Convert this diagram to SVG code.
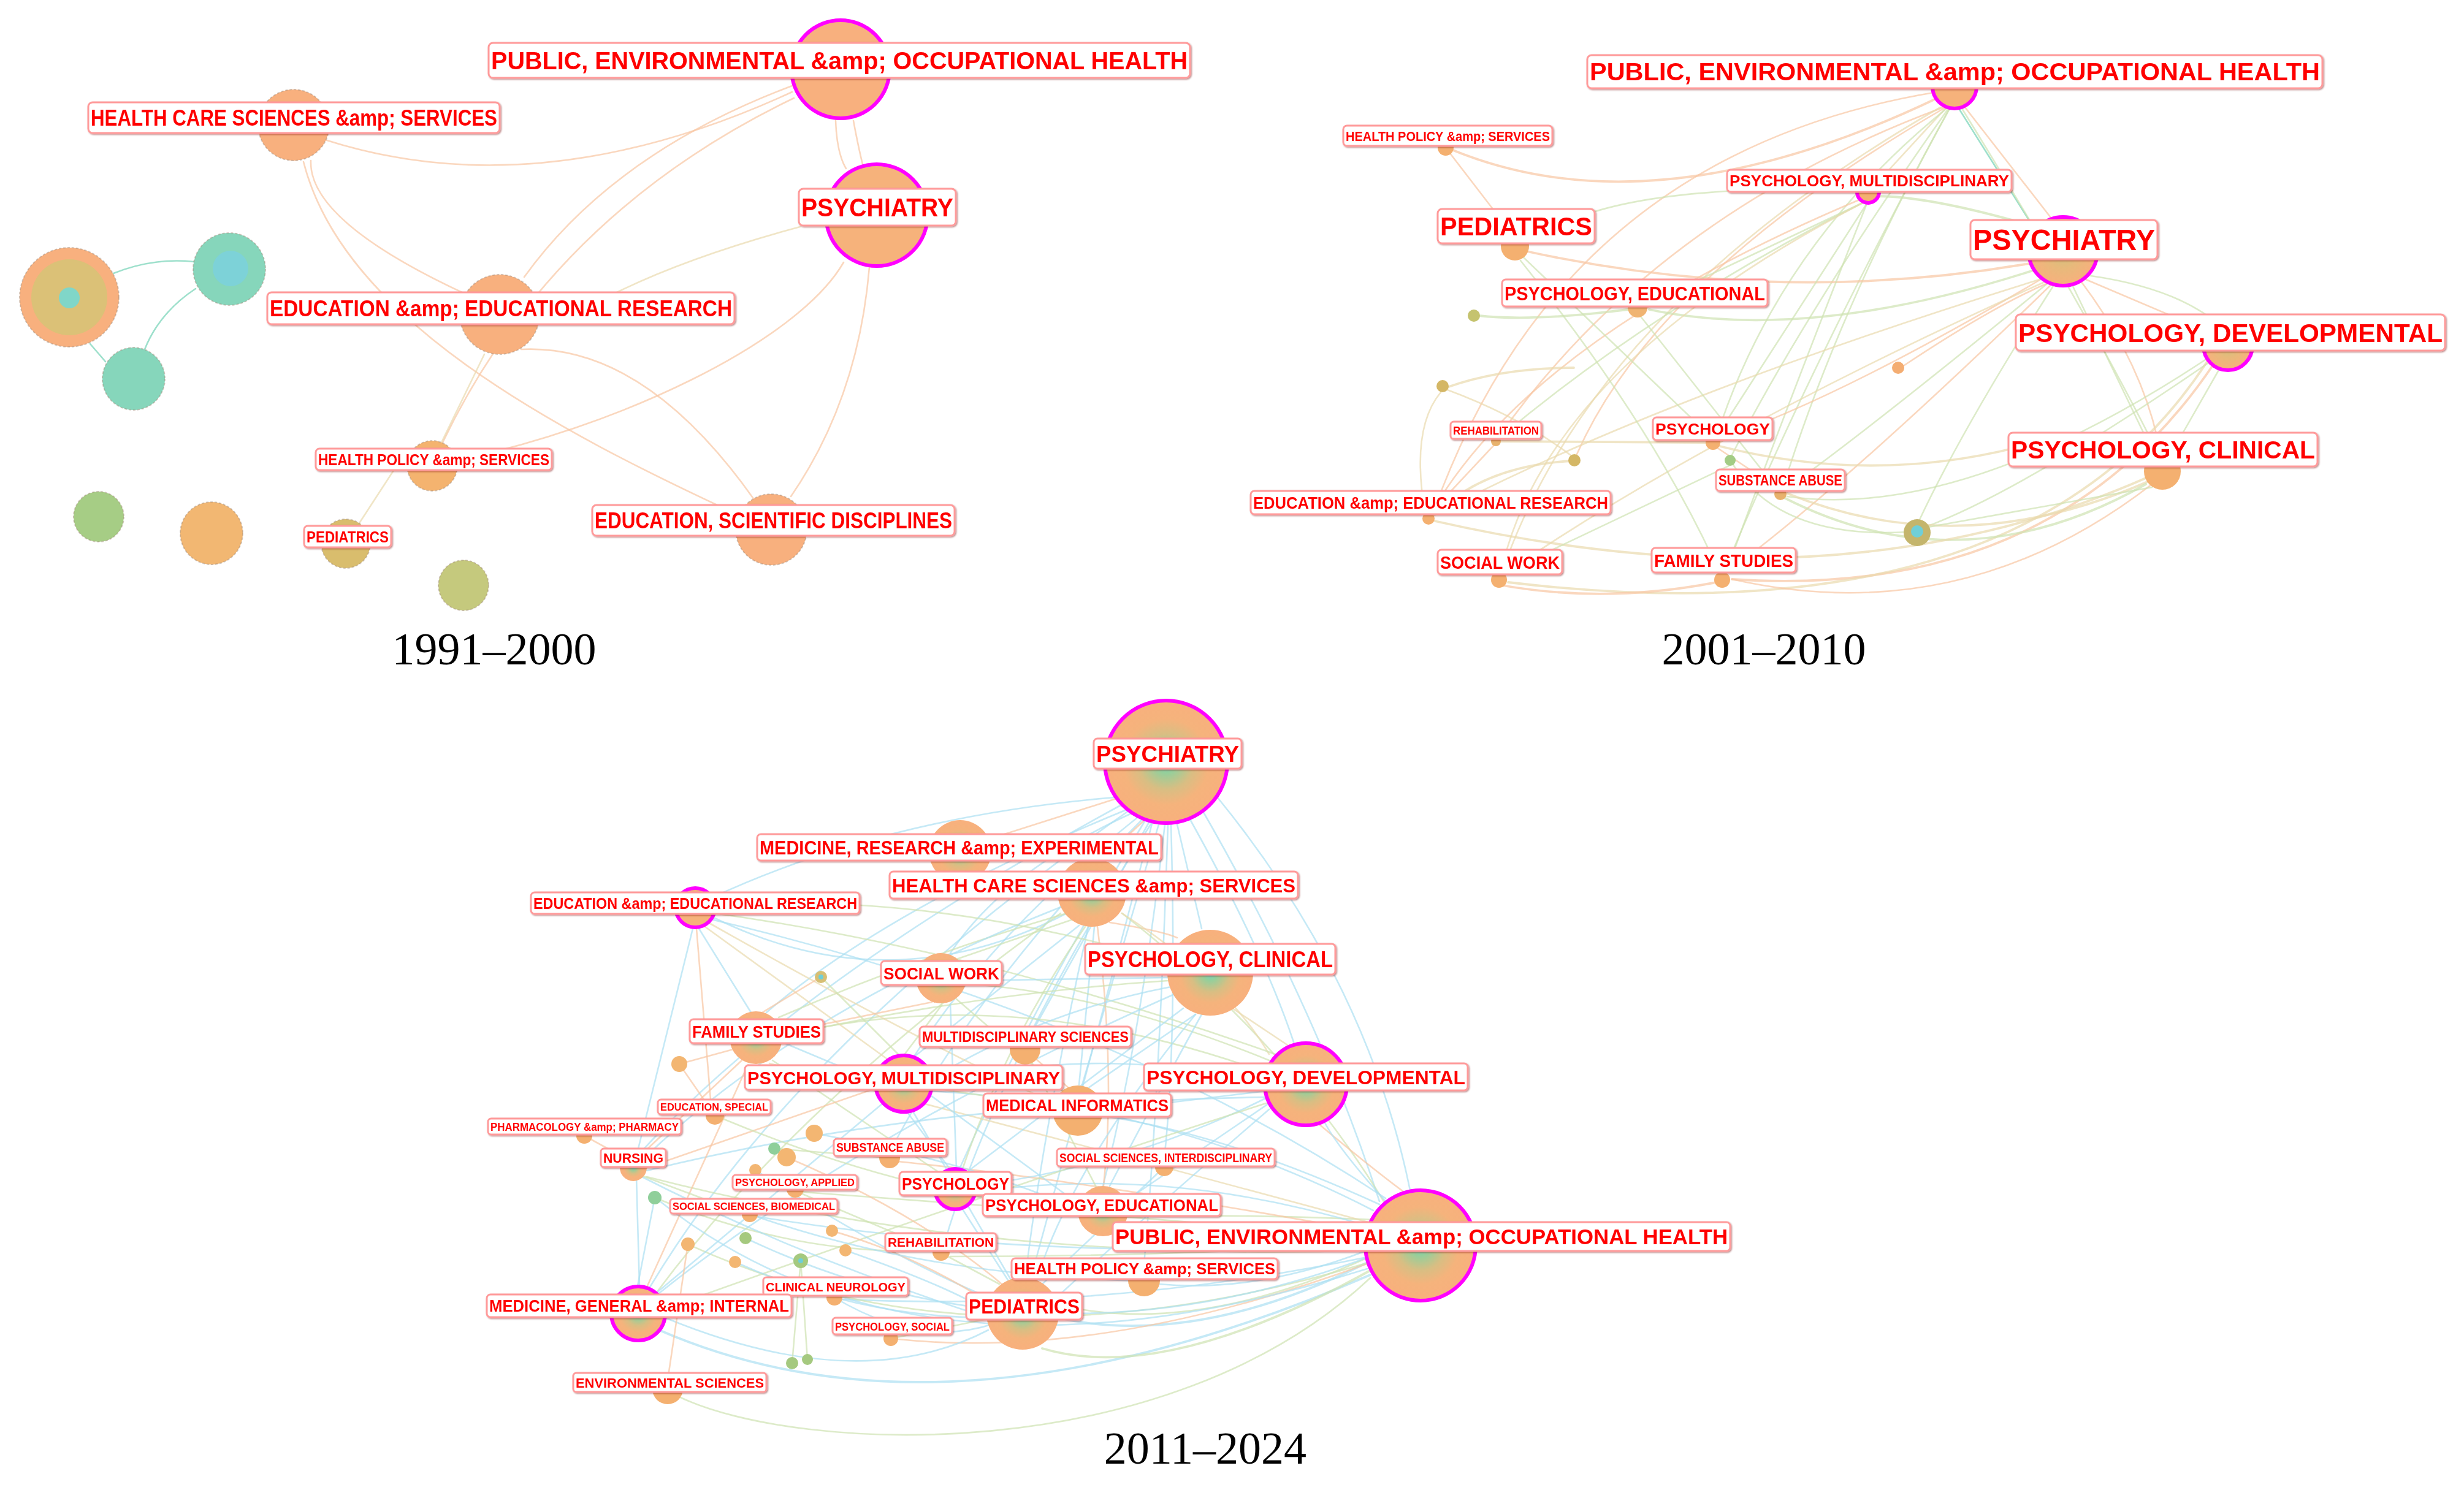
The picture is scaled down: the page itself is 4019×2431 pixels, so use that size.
<svg xmlns="http://www.w3.org/2000/svg" width="4019" height="2431" viewBox="0 0 4019 2431">
<style>
.e{fill:none;stroke-width:2.6;stroke-linecap:round;stroke-opacity:.7}
.eo{stroke:#f8c6a2}.eg{stroke:#cfe2b2}.eb{stroke:#ade0f2}.et{stroke:#eadaae}.ec{stroke:#9ee0cc;stroke-opacity:1}
.w{stroke-width:3.8}
.n{stroke:#a08a78;stroke-opacity:.45;stroke-width:2;stroke-dasharray:4 3}
.m{stroke:#ff00ff;stroke-width:6}
.lb{fill:#fff;stroke:#ff9a9a;stroke-width:3}
.lt{font-family:"Liberation Sans Narrow","Liberation Sans",Arial,sans-serif;font-weight:bold;fill:#ff0000;text-anchor:middle}
.cap{font-family:"Liberation Serif","Times New Roman",serif;font-size:74px;fill:#000;text-anchor:middle}
</style>
<defs>
<radialGradient id="g3">
<stop offset="0" stop-color="#6ed3c6"/><stop offset="0.18" stop-color="#95cf9b"/><stop offset="0.45" stop-color="#d8be83"/><stop offset="0.7" stop-color="#f5b37c"/><stop offset="1" stop-color="#f8b07d"/>
</radialGradient>
<radialGradient id="g2">
<stop offset="0" stop-color="#cdc27e"/><stop offset="0.5" stop-color="#e8b97b"/><stop offset="1" stop-color="#f8b07d"/>
</radialGradient>
<filter id="sh" x="-5%" y="-20%" width="110%" height="140%"><feDropShadow dx="1.5" dy="1.5" stdDeviation="1" flood-color="#700" flood-opacity="0.45"/></filter>
</defs>
<rect width="4019" height="2431" fill="#fff"/>

<g id="connectors">
<!-- panel 1 -->
<path class="e eo" d="M530 228 Q880 340 1292 150"/>
<path class="e eo" d="M507 262 Q503 361 760 480"/>
<path class="e eo" d="M495 264 C560 520 900 700 1215 845"/>
<path class="e eo" d="M855 452 Q1000 250 1292 140"/>
<path class="e eo" d="M722 722 Q900 350 1295 160"/>
<path class="e eo" d="M1363 197 Q1365 250 1380 275"/>
<path class="e eo" d="M1392 197 Q1400 240 1407 268"/>
<path class="e et" d="M1305 370 Q1120 420 1000 480"/>
<path class="e eo" d="M1376 428 C1300 560 1000 700 740 752"/>
<path class="e eo" d="M1418 436 Q1400 650 1290 810"/>
<path class="e eo" d="M850 570 Q1050 560 1230 815"/>
<path class="e et" d="M790 578 L720 722"/>
<path class="e et" d="M643 766 L587 852"/>
<path class="e ec" d="M185 446 Q250 420 316 427"/>
<path class="e ec" d="M319 471 Q260 510 236 570"/>
<path class="e ec" d="M147 561 L172 590"/>
<!-- panel 2 -->
<path class="e eo w" d="M2370 245 Q2700 380 3160 160"/>
<path class="e eo" d="M2365 250 L2465 380"/>
<path class="e eo" d="M3160 150 Q2550 250 2340 830"/>
<path class="e et" d="M3175 175 L3060 300"/>
<path class="e ec" d="M3195 177 L3310 360"/>
<path class="e eo" d="M3205 175 L3345 355"/>
<path class="e eo" d="M3170 175 Q2700 350 2445 712"/>
<path class="e eg" d="M3175 177 Q2900 400 2800 712"/>
<path class="e eg" d="M3180 177 Q3000 500 2908 796"/>
<path class="e et" d="M3165 175 Q2600 500 2450 933"/>
<path class="e eg" d="M3180 177 Q2950 600 2812 933"/>
<path class="e eo" d="M3172 176 Q2700 450 2572 741"/>
<path class="e eg" d="M3178 177 Q2950 500 2825 742"/>
<path class="e eg" d="M3200 177 Q3400 500 3520 740"/>
<path class="e eo w" d="M2490 410 Q2900 500 3310 430"/>
<path class="e eg w" d="M3060 320 Q3150 320 3320 370"/>
<path class="e eg" d="M3035 310 Q2700 300 2560 360"/>
<path class="e eg" d="M3040 330 L2690 495"/>
<path class="e eg" d="M3040 330 Q2700 500 2445 715"/>
<path class="e eo" d="M3035 325 Q2500 550 2335 836"/>
<path class="e eg" d="M3045 332 L2800 712"/>
<path class="e eg" d="M3045 332 Q2900 700 2815 935"/>
<path class="e eg w" d="M3320 440 Q2950 560 2690 505"/>
<path class="e eo" d="M3400 455 L3600 540"/>
<path class="e eg" d="M3410 450 Q3550 470 3620 530"/>
<path class="e eg" d="M3380 465 L3515 745"/>
<path class="e eo" d="M3395 460 Q3500 600 3525 745"/>
<path class="e eo" d="M3330 455 Q3000 650 2805 716"/>
<path class="e eg" d="M3350 465 Q3200 700 3130 850"/>
<path class="e eo" d="M3345 465 Q3000 800 2815 935"/>
<path class="e eg" d="M3340 462 Q3050 700 2910 800"/>
<path class="e et" d="M3335 460 Q2800 700 2455 935"/>
<path class="e et" d="M3330 455 Q2700 650 2340 840"/>
<path class="e eg" d="M3620 602 L3540 742"/>
<path class="e eo w" d="M3610 595 Q3350 980 2825 945"/>
<path class="e et w" d="M3600 590 Q3300 1050 2460 950"/>
<path class="e eg" d="M3605 590 Q3300 800 3140 860"/>
<path class="e eg" d="M3600 585 Q3200 850 2915 810"/>
<path class="e et w" d="M2805 728 Q3050 790 3290 730"/>
<path class="e et w" d="M3505 785 Q3200 920 2915 805"/>
<path class="e eg w" d="M3500 790 Q3200 960 2910 812"/>
<path class="e et w" d="M3500 780 Q3000 1000 2340 850"/>
<path class="e eo" d="M3510 790 Q3200 1030 2825 945"/>
<path class="e eg" d="M3510 795 L3145 860"/>
<path class="e eo w" d="M2450 955 Q2620 985 2800 950"/>
<path class="e et w" d="M2448 720 L2785 722"/>
<path class="e et w" d="M2360 632 Q2450 600 2567 600"/>
<path class="e et" d="M2358 635 Q2480 680 2565 745"/>
<path class="e et" d="M2325 840 Q2300 700 2350 640"/>
<path class="e et w" d="M2340 840 Q2420 760 2563 752"/>
<path class="e eo" d="M2335 835 L2438 725"/>
<path class="e eg" d="M2452 935 L2820 760"/>
<path class="e et" d="M2448 935 Q2520 600 3040 330"/>
<path class="e eg w" d="M2655 505 Q2500 525 2412 515"/>
<path class="e eg" d="M2675 515 L2900 800"/>
<path class="e eg" d="M2480 425 Q2700 700 2805 935"/>
<path class="e eg" d="M2485 420 L2790 712"/>
<path class="e eo" d="M3100 600 Q3250 500 3340 462"/>
<path class="e eo" d="M2800 730 L2905 800"/>
<path class="e eg" d="M2825 755 Q2900 880 3110 868"/>
<!-- panel 3 -->
<path class="e eb" d="M1985 1300 Q2230 1600 2300 1942"/>
<path class="e eb" d="M1960 1320 Q2150 1650 2250 1960"/>
<path class="e eb" d="M1940 1335 Q2060 1550 2110 1700"/>
<path class="e eb" d="M1920 1345 L1960 1515"/>
<path class="e eb" d="M1900 1345 Q1860 1700 1799 1935"/>
<path class="e eb" d="M1890 1345 L1765 1770"/>
<path class="e eb" d="M1910 1345 Q1920 1700 1899 1890"/>
<path class="e eb" d="M1905 1345 Q1890 1800 1866 2062"/>
<path class="e eb" d="M1880 1340 Q1760 1800 1680 2090"/>
<path class="e eb" d="M1870 1335 Q1680 1650 1565 1907"/>
<path class="e eb" d="M1860 1330 Q1620 1520 1490 1725"/>
<path class="e eb" d="M1850 1325 Q1640 1420 1550 1555"/>
<path class="e eb" d="M1875 1340 L1680 1690"/>
<path class="e eb" d="M1830 1300 Q1450 1330 1160 1465"/>
<path class="e eb" d="M1840 1320 Q1450 1480 1250 1652"/>
<path class="e eb" d="M1845 1320 Q1300 1700 1060 2100"/>
<path class="e eb" d="M1835 1310 Q1300 1600 1045 1880"/>
<path class="e eb" d="M1865 1335 Q1600 1600 1455 1872"/>
<path class="e eb" d="M1880 1340 Q1620 1750 1540 2030"/>
<path class="e eo" d="M1830 1300 L1610 1370"/>
<path class="e eo" d="M1870 1335 L1800 1400"/>
<path class="e eb" d="M1160 1495 Q1450 1640 1740 1490"/>
<path class="e eg" d="M1740 1490 Q1500 1560 1270 1660"/>
<path class="e eb" d="M1760 1510 L1490 1725"/>
<path class="e eg" d="M1750 1500 L1560 1565"/>
<path class="e eo" d="M1810 1505 Q1900 1520 1920 1530"/>
<path class="e eo" d="M1790 1512 Q1820 1750 1800 1935"/>
<path class="e eb" d="M1775 1512 Q1700 1850 1672 2088"/>
<path class="e eg" d="M1830 1490 Q2100 1700 2260 1965"/>
<path class="e et" d="M1830 1490 Q2000 1600 2070 1720"/>
<path class="e eb" d="M1785 1512 L1760 1770"/>
<path class="e eg" d="M1770 1512 Q1640 1700 1570 1907"/>
<path class="e eb" d="M1730 1480 Q1300 1650 1050 1890"/>
<path class="e eg" d="M1730 1490 Q1300 1800 1070 2110"/>
<path class="e eb w" d="M1075 2170 Q1550 2377 2235 2080"/>
<path class="e eg" d="M1110 2280 C1300 2370 1900 2400 2235 2085"/>
<path class="e eb w" d="M2230 2060 Q1950 2200 1725 2150"/>
<path class="e eg" d="M2235 2050 Q1950 2180 1730 2130"/>
<path class="e eg w" d="M2240 2070 Q1900 2260 1700 2200"/>
<path class="e eb" d="M2230 2040 Q2050 2110 1890 2095"/>
<path class="e eg" d="M2240 1990 Q2000 1980 1840 1985"/>
<path class="e eb" d="M2230 2000 Q1900 1900 1590 1945"/>
<path class="e eg" d="M2230 2030 Q1900 2050 1550 2050"/>
<path class="e eb" d="M2235 2050 Q1800 2140 1375 2120"/>
<path class="e eo" d="M2235 2060 Q1800 2220 1465 2185"/>
<path class="e eb" d="M2240 1975 Q1900 1800 1515 1780"/>
<path class="e eb" d="M2250 1965 Q2000 1850 1795 1820"/>
<path class="e eo" d="M2150 1833 Q2230 1900 2290 1945"/>
<path class="e eb" d="M2260 1960 Q2180 1870 2160 1830"/>
<path class="e eg" d="M2230 2040 Q1600 2060 1055 1920"/>
<path class="e et" d="M2235 1995 Q1700 1850 1255 1735"/>
<path class="e eb" d="M2235 2030 Q1700 2060 1235 1985"/>
<path class="e eg" d="M2235 2020 Q1800 1980 1310 1945"/>
<path class="e eb" d="M2260 1955 Q1800 1650 1160 1500"/>
<path class="e eo" d="M2233 2010 Q1800 1930 1465 1895"/>
<path class="e eb" d="M1070 1955 Q1500 2300 2230 2070"/>
<path class="e eg" d="M1122 2030 Q1600 2250 2232 2060"/>
<path class="e eb" d="M1216 2020 Q1700 2250 2235 2050"/>
<path class="e eb" d="M2065 1770 Q1800 1700 1520 1770"/>
<path class="e eb" d="M2068 1790 Q1850 1900 1590 1935"/>
<path class="e eb" d="M2070 1800 L1835 1960"/>
<path class="e eb" d="M2070 1810 Q1850 2000 1720 2120"/>
<path class="e eb" d="M2065 1780 L1798 1812"/>
<path class="e eg" d="M2070 1730 Q1800 1620 1575 1605"/>
<path class="e eg" d="M2065 1750 Q1650 1600 1275 1690"/>
<path class="e et" d="M2100 1705 L2010 1645"/>
<path class="e eb" d="M2063 1790 Q1500 1800 1055 1910"/>
<path class="e eg" d="M2065 1800 Q1600 1950 1085 2135"/>
<path class="e eg" d="M2080 1720 Q1600 1550 1165 1490"/>
<path class="e eb" d="M1905 1595 L1575 1600"/>
<path class="e eb" d="M1910 1610 Q1700 1650 1520 1760"/>
<path class="e eg" d="M1905 1600 Q1600 1620 1275 1690"/>
<path class="e eb" d="M1950 1655 L1775 1775"/>
<path class="e eb" d="M1960 1655 Q1880 1800 1810 1935"/>
<path class="e eb" d="M1950 1655 Q1750 1900 1690 2090"/>
<path class="e eb" d="M1930 1645 L1580 1910"/>
<path class="e eg" d="M1910 1570 Q1500 1450 1165 1480"/>
<path class="e eb" d="M1920 1620 Q1400 1850 1075 2110"/>
<path class="e eb" d="M1140 1515 L1225 1652"/>
<path class="e et" d="M1150 1512 L1450 1730"/>
<path class="e eb" d="M1130 1515 L1040 1878"/>
<path class="e et" d="M1155 1505 Q1500 1700 1720 1800"/>
<path class="e eo" d="M1136 1515 L1160 1806"/>
<path class="e eb" d="M1275 1700 L1430 1765"/>
<path class="e eo" d="M1210 1730 L1050 1880"/>
<path class="e eg" d="M1260 1730 L1535 1915"/>
<path class="e eb" d="M1480 1815 L1550 1908"/>
<path class="e eg" d="M1520 1775 L1720 1805"/>
<path class="e eb" d="M1515 1785 L1760 1965"/>
<path class="e eb" d="M1490 1815 L1650 2090"/>
<path class="e eo" d="M1430 1775 L1055 1905"/>
<path class="e eb" d="M1440 1800 L1070 2110"/>
<path class="e eb" d="M1570 1973 L1645 2090"/>
<path class="e eg" d="M1593 1945 L1760 1975"/>
<path class="e eb" d="M1785 2015 L1700 2095"/>
<path class="e eb" d="M1038 1921 L1043 2098"/>
<path class="e eo" d="M1055 2100 L1220 1737"/>
<path class="e eb" d="M1085 2150 Q1400 2280 1612 2170"/>
<path class="e eg" d="M1536 1640 L1474 1722"/>
<path class="e eo" d="M1520 1635 L1250 1690"/>
<path class="e eb" d="M1550 1638 L1560 1907"/>
<path class="e eg" d="M1560 1630 L1745 1790"/>
<path class="e eo" d="M1339 1594 L1230 1660"/>
<path class="e eg" d="M1339 1594 L1470 1725"/>
<path class="e eo" d="M1108 1736 L1240 1700"/>
<path class="e eo" d="M1108 1736 L1166 1820"/>
<path class="e eb" d="M1328 1849 Q1600 1900 1760 1975"/>
<path class="e eg" d="M1263 1874 L1450 1889"/>
<path class="e eo" d="M1283 1888 Q1500 1980 1640 2100"/>
<path class="e eb" d="M1232 1909 Q1450 2050 1620 2120"/>
<path class="e eg" d="M1068 1954 Q1300 2050 1520 2040"/>
<path class="e eb" d="M1068 1954 L1040 2098"/>
<path class="e eo" d="M1122 2030 L1090 2245"/>
<path class="e eg" d="M1306 2057 L1292 2224"/>
<path class="e eg" d="M1306 2057 L1317 2218"/>
<path class="e eb" d="M1199 2059 Q1400 2150 1615 2150"/>
<path class="e eo" d="M1357 2008 Q1500 2050 1620 2130"/>
<path class="e eb" d="M1379 2040 Q1550 2100 1612 2140"/>
<path class="e eg" d="M1166 1820 Q1500 1960 1800 1978"/>
<path class="e eo" d="M953 1853 L1030 1895"/>
<path class="e eb" d="M1033 1913 Q1300 2050 1612 2150"/>
<path class="e eg" d="M1033 1913 L1215 1981"/>
<path class="e eb" d="M1223 1981 Q1500 2080 1860 2090"/>
<path class="e eg" d="M1297 1943 L1533 2043"/>
<path class="e eb" d="M1361 2117 Q1500 2200 1620 2160"/>
<path class="e eg" d="M1453 2184 L1620 2150"/>
<path class="e eo" d="M1672 1712 L1760 1790"/>
<path class="e eg" d="M1672 1712 L1800 1960"/>
<path class="e eb" d="M1899 1904 L1840 1960"/>
<path class="e eg" d="M1533 2043 L1630 2095"/>
</g>

<g id="nodes">
<!-- panel 1 -->
<g id="p1-public"><circle cx="1371" cy="113" r="80" fill="#f8b07e" class="m"/></g>
<g id="p1-healthcare"><circle cx="479" cy="204" r="58" fill="#f8b07e" class="n"/></g>
<g id="p1-psychiatry"><circle cx="1430" cy="351" r="83" fill="#f6b27b" class="m"/></g>
<g id="p1-edu-research"><circle cx="815" cy="513" r="65" fill="#f8b07e" class="n"/></g>
<g id="p1-multi"><circle cx="113" cy="485" r="81" fill="#f8b07e" class="n"/><circle cx="113" cy="485" r="62" fill="#dbc177"/><circle cx="113" cy="486" r="17" fill="#80d6c8"/></g>
<g id="p1-teal-top"><circle cx="374" cy="439" r="59" fill="#86d6bb" class="n"/><circle cx="376" cy="438" r="29" fill="#7dd2d8"/></g>
<g id="p1-teal-bottom"><circle cx="218" cy="618" r="51" fill="#86d6bb" class="n"/></g>
<g id="p1-health-policy"><circle cx="705" cy="760" r="41" fill="#f4b36f" class="n"/></g>
<g id="p1-pediatrics"><circle cx="564" cy="887" r="40" fill="#d9bd6d" class="n"/></g>
<g id="p1-edu-sci"><circle cx="1258" cy="864" r="58" fill="#f8b07e" class="n"/></g>
<g id="p1-green"><circle cx="161" cy="843" r="41" fill="#a6cd85" class="n"/></g>
<g id="p1-orange"><circle cx="345" cy="870" r="51" fill="#f2b772" class="n"/></g>
<g id="p1-olive"><circle cx="756" cy="955" r="41" fill="#c5c97d" class="n"/></g>
<!-- panel 2 -->
<g id="p2-public"><circle cx="3188" cy="141" r="36" fill="#f6b27b" class="m"/></g>
<g id="p2-health-policy"><circle cx="2358" cy="241" r="13" fill="#f4b070"/></g>
<g id="p2-psych-multi"><circle cx="3047" cy="313" r="18" fill="#f4b070" class="m"/></g>
<g id="p2-pediatrics"><circle cx="2471" cy="402" r="23" fill="#f4b070"/></g>
<g id="p2-psychiatry"><circle cx="3365" cy="410" r="56" fill="url(#g2)" class="m"/></g>
<g id="p2-psych-edu"><circle cx="2671" cy="502" r="16" fill="#f0b472"/></g>
<g id="p2-psych-dev"><circle cx="3634" cy="564" r="40" fill="url(#g2)" class="m"/></g>
<g id="p2-olive1"><circle cx="2404" cy="515" r="10" fill="#c5c36f"/></g>
<g id="p2-olive2"><circle cx="2353" cy="630" r="10" fill="#d4b766"/></g>
<g id="p2-orange"><circle cx="3096" cy="600" r="10" fill="#f4ad72"/></g>
<g id="p2-rehab"><circle cx="2440" cy="720" r="8" fill="#e8b26c"/></g>
<g id="p2-psychology"><circle cx="2794" cy="722" r="12" fill="#f4b070"/></g>
<g id="p2-olive3"><circle cx="2568" cy="751" r="10" fill="#d4b766"/></g>
<g id="p2-green"><circle cx="2822" cy="751" r="9" fill="#a3cc85"/></g>
<g id="p2-psych-clinical"><circle cx="3527" cy="769" r="30" fill="#f4b070"/></g>
<g id="p2-substance"><circle cx="2904" cy="806" r="10" fill="#e8b26c"/></g>
<g id="p2-edu-research"><circle cx="2330" cy="846" r="10" fill="#f4b070"/></g>
<g id="p2-teal"><circle cx="3127" cy="869" r="22" fill="#c4b56c"/><circle cx="3127" cy="867" r="10" fill="#6fcfd8"/></g>
<g id="p2-social-work"><circle cx="2445" cy="946" r="13" fill="#f4b070"/></g>
<g id="p2-family"><circle cx="2809" cy="946" r="13" fill="#f4b070"/></g>
<!-- panel 3 -->
<g id="p3-psychiatry"><circle cx="1902" cy="1243" r="100" fill="url(#g3)" class="m"/></g>
<g id="p3-med-research"><circle cx="1566" cy="1389" r="51" fill="url(#g3)"/></g>
<g id="p3-healthcare"><circle cx="1781" cy="1456" r="56" fill="url(#g3)"/></g>
<g id="p3-psych-clinical"><circle cx="1974" cy="1587" r="70" fill="url(#g3)"/></g>
<g id="p3-edu-research"><circle cx="1134" cy="1481" r="32" fill="#f6b27b" class="m"/></g>
<g id="p3-social-work"><circle cx="1535" cy="1596" r="41" fill="url(#g3)"/></g>
<g id="p3-family"><circle cx="1233" cy="1693" r="43" fill="url(#g3)"/></g>
<g id="p3-multisci"><circle cx="1672" cy="1712" r="25" fill="#f4b070"/></g>
<g id="p3-psych-multi"><circle cx="1474" cy="1768" r="46" fill="url(#g3)" class="m"/></g>
<g id="p3-psych-dev"><circle cx="2130" cy="1769" r="67" fill="url(#g3)" class="m"/></g>
<g id="p3-med-info"><circle cx="1758" cy="1812" r="41" fill="#f4b070"/></g>
<g id="p3-edu-special"><circle cx="1166" cy="1820" r="15" fill="#f4b070"/></g>
<g id="p3-pharma"><circle cx="953" cy="1853" r="13" fill="#f4b070"/></g>
<g id="p3-nursing"><circle cx="1033" cy="1905" r="22" fill="url(#g3)"/></g>
<g id="p3-substance"><circle cx="1451" cy="1889" r="17" fill="#f4b070"/></g>
<g id="p3-socsci-inter"><circle cx="1899" cy="1904" r="15" fill="#f4b070"/></g>
<g id="p3-psychology"><circle cx="1558" cy="1940" r="33" fill="url(#g3)" class="m"/></g>
<g id="p3-psych-applied"><circle cx="1297" cy="1940" r="14" fill="#f4b070"/></g>
<g id="p3-socsci-bio"><circle cx="1223" cy="1981" r="13" fill="#f4b070"/></g>
<g id="p3-psych-edu"><circle cx="1799" cy="1976" r="41" fill="url(#g3)"/></g>
<g id="p3-public"><circle cx="2317" cy="2032" r="90" fill="url(#g3)" class="m"/></g>
<g id="p3-rehab"><circle cx="1535" cy="2043" r="14" fill="#f4b070"/></g>
<g id="p3-health-policy"><circle cx="1866" cy="2089" r="26" fill="#f4b070"/></g>
<g id="p3-clin-neuro"><circle cx="1361" cy="2117" r="13" fill="#f4b070"/></g>
<g id="p3-pediatrics"><circle cx="1668" cy="2143" r="59" fill="url(#g3)"/></g>
<g id="p3-med-general"><circle cx="1041" cy="2143" r="44" fill="url(#g3)" class="m"/></g>
<g id="p3-psych-social"><circle cx="1453" cy="2184" r="12" fill="#f4b070"/></g>
<g id="p3-env-sci"><circle cx="1089" cy="2266" r="25" fill="#f4b070"/></g>
<g id="p3-small-1"><circle cx="1339" cy="1594" r="10" fill="#d7bf74"/><circle cx="1339" cy="1594" r="4" fill="#6fcfd8"/></g>
<g id="p3-small-2"><circle cx="1108" cy="1736" r="13" fill="#f3b672"/></g>
<g id="p3-small-3"><circle cx="1328" cy="1849" r="14" fill="#f3b672"/></g>
<g id="p3-small-4"><circle cx="1263" cy="1874" r="10" fill="#8fcf9a"/></g>
<g id="p3-small-5"><circle cx="1283" cy="1888" r="15" fill="#f3b672"/></g>
<g id="p3-small-6"><circle cx="1232" cy="1909" r="10" fill="#f3b672"/></g>
<g id="p3-small-7"><circle cx="1068" cy="1954" r="11" fill="#8fcf9a"/></g>
<g id="p3-small-8"><circle cx="1122" cy="2030" r="11" fill="#f3b672"/></g>
<g id="p3-small-9"><circle cx="1216" cy="2020" r="10" fill="#a5c97f"/></g>
<g id="p3-small-10"><circle cx="1306" cy="2057" r="12" fill="#a5c97f"/><circle cx="1306" cy="2057" r="4" fill="#6fcfd8"/></g>
<g id="p3-small-11"><circle cx="1199" cy="2059" r="10" fill="#f3b672"/></g>
<g id="p3-small-12"><circle cx="1357" cy="2008" r="10" fill="#f3b672"/></g>
<g id="p3-small-13"><circle cx="1379" cy="2040" r="10" fill="#f3b672"/></g>
<g id="p3-small-14"><circle cx="1292" cy="2224" r="10" fill="#a5c97f"/></g>
<g id="p3-small-15"><circle cx="1317" cy="2218" r="9" fill="#a5c97f"/></g>
</g>

<g id="labels" filter="url(#sh)">
<!-- panel 1 -->
<g id="l1-public"><rect class="lb" x="797" y="70" width="1144" height="57" rx="7"/><text class="lt" x="1369" y="113" font-size="40" textLength="1136" lengthAdjust="spacingAndGlyphs">PUBLIC, ENVIRONMENTAL &amp;amp; OCCUPATIONAL HEALTH</text></g>
<g id="l1-healthcare"><rect class="lb" x="144" y="167" width="671" height="50" rx="7"/><text class="lt" x="479.5" y="205" font-size="36" textLength="663" lengthAdjust="spacingAndGlyphs">HEALTH CARE SCIENCES &amp;amp; SERVICES</text></g>
<g id="l1-psychiatry"><rect class="lb" x="1303" y="308" width="256" height="60" rx="7"/><text class="lt" x="1431" y="353" font-size="43" textLength="248" lengthAdjust="spacingAndGlyphs">PSYCHIATRY</text></g>
<g id="l1-edu-research"><rect class="lb" x="436" y="477" width="762" height="52" rx="7"/><text class="lt" x="817" y="516" font-size="37" textLength="754" lengthAdjust="spacingAndGlyphs">EDUCATION &amp;amp; EDUCATIONAL RESEARCH</text></g>
<g id="l1-health-policy"><rect class="lb" x="515" y="732" width="385" height="35" rx="6"/><text class="lt" x="707.5" y="758.5" font-size="25" textLength="377" lengthAdjust="spacingAndGlyphs">HEALTH POLICY &amp;amp; SERVICES</text></g>
<g id="l1-pediatrics"><rect class="lb" x="496" y="858" width="142" height="35" rx="6"/><text class="lt" x="567" y="884.5" font-size="25" textLength="134" lengthAdjust="spacingAndGlyphs">PEDIATRICS</text></g>
<g id="l1-edu-sci"><rect class="lb" x="966" y="824" width="591" height="50" rx="7"/><text class="lt" x="1261.5" y="862" font-size="36" textLength="583" lengthAdjust="spacingAndGlyphs">EDUCATION, SCIENTIFIC DISCIPLINES</text></g>
<!-- panel 2 -->
<g id="l2-public"><rect class="lb" x="2589" y="90" width="1199" height="54" rx="7"/><text class="lt" x="3188.5" y="131.4" font-size="40" textLength="1191" lengthAdjust="spacingAndGlyphs">PUBLIC, ENVIRONMENTAL &amp;amp; OCCUPATIONAL HEALTH</text></g>
<g id="l2-health-policy"><rect class="lb" x="2191" y="205" width="341" height="33" rx="6"/><text class="lt" x="2361.5" y="229.5" font-size="22" textLength="333" lengthAdjust="spacingAndGlyphs">HEALTH POLICY &amp;amp; SERVICES</text></g>
<g id="l2-psych-multi"><rect class="lb" x="2817" y="277" width="464" height="36" rx="6"/><text class="lt" x="3049" y="304" font-size="25" textLength="456" lengthAdjust="spacingAndGlyphs">PSYCHOLOGY, MULTIDISCIPLINARY</text></g>
<g id="l2-pediatrics"><rect class="lb" x="2345" y="341" width="256" height="56" rx="7"/><text class="lt" x="2473" y="384" font-size="42" textLength="248" lengthAdjust="spacingAndGlyphs">PEDIATRICS</text></g>
<g id="l2-psychiatry"><rect class="lb" x="3214" y="359" width="305" height="64" rx="7"/><text class="lt" x="3366.5" y="408" font-size="48" textLength="297" lengthAdjust="spacingAndGlyphs">PSYCHIATRY</text></g>
<g id="l2-psych-edu"><rect class="lb" x="2450" y="456" width="433" height="44" rx="6"/><text class="lt" x="2666.5" y="489.5" font-size="32" textLength="425" lengthAdjust="spacingAndGlyphs">PSYCHOLOGY, EDUCATIONAL</text></g>
<g id="l2-psych-dev"><rect class="lb" x="3288" y="513" width="700" height="59" rx="7"/><text class="lt" x="3638" y="557.5" font-size="42" textLength="692" lengthAdjust="spacingAndGlyphs">PSYCHOLOGY, DEVELOPMENTAL</text></g>
<g id="l2-rehab"><rect class="lb" x="2366" y="688" width="148" height="28" rx="5"/><text class="lt" x="2440" y="709" font-size="19" textLength="140" lengthAdjust="spacingAndGlyphs">REHABILITATION</text></g>
<g id="l2-psychology"><rect class="lb" x="2696" y="681" width="195" height="37" rx="6"/><text class="lt" x="2793.5" y="709" font-size="26" textLength="187" lengthAdjust="spacingAndGlyphs">PSYCHOLOGY</text></g>
<g id="l2-psych-clinical"><rect class="lb" x="3276" y="706" width="504" height="55" rx="7"/><text class="lt" x="3528" y="748" font-size="40" textLength="496" lengthAdjust="spacingAndGlyphs">PSYCHOLOGY, CLINICAL</text></g>
<g id="l2-substance"><rect class="lb" x="2799" y="766" width="210" height="35" rx="6"/><text class="lt" x="2904" y="792" font-size="23" textLength="202" lengthAdjust="spacingAndGlyphs">SUBSTANCE ABUSE</text></g>
<g id="l2-edu-research"><rect class="lb" x="2040" y="801" width="587" height="38" rx="6"/><text class="lt" x="2333.5" y="830" font-size="27" textLength="579" lengthAdjust="spacingAndGlyphs">EDUCATION &amp;amp; EDUCATIONAL RESEARCH</text></g>
<g id="l2-social-work"><rect class="lb" x="2345" y="897" width="203" height="40" rx="6"/><text class="lt" x="2446.5" y="927.5" font-size="29" textLength="195" lengthAdjust="spacingAndGlyphs">SOCIAL WORK</text></g>
<g id="l2-family"><rect class="lb" x="2694" y="894" width="235" height="40" rx="6"/><text class="lt" x="2811.5" y="924.5" font-size="29" textLength="227" lengthAdjust="spacingAndGlyphs">FAMILY STUDIES</text></g>
<!-- panel 3 -->
<g id="l3-psychiatry"><rect class="lb" x="1784" y="1205" width="241" height="49" rx="6"/><text class="lt" x="1904.5" y="1242.5" font-size="36" textLength="233" lengthAdjust="spacingAndGlyphs">PSYCHIATRY</text></g>
<g id="l3-med-research"><rect class="lb" x="1235" y="1361" width="659" height="43" rx="6"/><text class="lt" x="1564.5" y="1393.5" font-size="31" textLength="651" lengthAdjust="spacingAndGlyphs">MEDICINE, RESEARCH &amp;amp; EXPERIMENTAL</text></g>
<g id="l3-healthcare"><rect class="lb" x="1451" y="1422" width="666" height="44" rx="6"/><text class="lt" x="1784" y="1455.5" font-size="32" textLength="658" lengthAdjust="spacingAndGlyphs">HEALTH CARE SCIENCES &amp;amp; SERVICES</text></g>
<g id="l3-edu-research"><rect class="lb" x="866" y="1456" width="536" height="35" rx="6"/><text class="lt" x="1134" y="1482.5" font-size="25" textLength="528" lengthAdjust="spacingAndGlyphs">EDUCATION &amp;amp; EDUCATIONAL RESEARCH</text></g>
<g id="l3-psych-clinical"><rect class="lb" x="1770" y="1540" width="408" height="50" rx="6"/><text class="lt" x="1974" y="1578" font-size="36" textLength="400" lengthAdjust="spacingAndGlyphs">PSYCHOLOGY, CLINICAL</text></g>
<g id="l3-social-work"><rect class="lb" x="1437" y="1568" width="197" height="39" rx="6"/><text class="lt" x="1535.5" y="1597.5" font-size="28" textLength="189" lengthAdjust="spacingAndGlyphs">SOCIAL WORK</text></g>
<g id="l3-family"><rect class="lb" x="1125" y="1663" width="218" height="39" rx="6"/><text class="lt" x="1234" y="1692.5" font-size="28" textLength="210" lengthAdjust="spacingAndGlyphs">FAMILY STUDIES</text></g>
<g id="l3-multisci"><rect class="lb" x="1500" y="1675" width="345" height="33" rx="6"/><text class="lt" x="1672.5" y="1700" font-size="24" textLength="337" lengthAdjust="spacingAndGlyphs">MULTIDISCIPLINARY SCIENCES</text></g>
<g id="l3-psych-multi"><rect class="lb" x="1215" y="1738" width="518" height="40" rx="6"/><text class="lt" x="1474" y="1769" font-size="30" textLength="510" lengthAdjust="spacingAndGlyphs">PSYCHOLOGY, MULTIDISCIPLINARY</text></g>
<g id="l3-psych-dev"><rect class="lb" x="1866" y="1735" width="528" height="44" rx="6"/><text class="lt" x="2130" y="1768.5" font-size="32" textLength="520" lengthAdjust="spacingAndGlyphs">PSYCHOLOGY, DEVELOPMENTAL</text></g>
<g id="l3-med-info"><rect class="lb" x="1604" y="1784" width="306" height="38" rx="6"/><text class="lt" x="1757" y="1813" font-size="28" textLength="298" lengthAdjust="spacingAndGlyphs">MEDICAL INFORMATICS</text></g>
<g id="l3-edu-special"><rect class="lb" x="1073" y="1794" width="184" height="24" rx="5"/><text class="lt" x="1165" y="1812" font-size="17" textLength="176" lengthAdjust="spacingAndGlyphs">EDUCATION, SPECIAL</text></g>
<g id="l3-pharma"><rect class="lb" x="796" y="1825" width="315" height="26" rx="5"/><text class="lt" x="953.5" y="1844.5" font-size="18" textLength="307" lengthAdjust="spacingAndGlyphs">PHARMACOLOGY &amp;amp; PHARMACY</text></g>
<g id="l3-nursing"><rect class="lb" x="980" y="1874" width="106" height="30" rx="5"/><text class="lt" x="1033" y="1897" font-size="22" textLength="98" lengthAdjust="spacingAndGlyphs">NURSING</text></g>
<g id="l3-substance"><rect class="lb" x="1360" y="1858" width="184" height="28" rx="5"/><text class="lt" x="1452" y="1879" font-size="20" textLength="176" lengthAdjust="spacingAndGlyphs">SUBSTANCE ABUSE</text></g>
<g id="l3-socsci-inter"><rect class="lb" x="1724" y="1874" width="355" height="29" rx="5"/><text class="lt" x="1901.5" y="1895.5" font-size="20" textLength="347" lengthAdjust="spacingAndGlyphs">SOCIAL SCIENCES, INTERDISCIPLINARY</text></g>
<g id="l3-psychology"><rect class="lb" x="1467" y="1912" width="183" height="38" rx="6"/><text class="lt" x="1558.5" y="1941" font-size="28" textLength="175" lengthAdjust="spacingAndGlyphs">PSYCHOLOGY</text></g>
<g id="l3-psych-applied"><rect class="lb" x="1195" y="1917" width="203" height="24" rx="5"/><text class="lt" x="1296.5" y="1935" font-size="17" textLength="195" lengthAdjust="spacingAndGlyphs">PSYCHOLOGY, APPLIED</text></g>
<g id="l3-socsci-bio"><rect class="lb" x="1093" y="1956" width="273" height="24" rx="5"/><text class="lt" x="1229.5" y="1974" font-size="17" textLength="265" lengthAdjust="spacingAndGlyphs">SOCIAL SCIENCES, BIOMEDICAL</text></g>
<g id="l3-psych-edu"><rect class="lb" x="1603" y="1948" width="388" height="36" rx="6"/><text class="lt" x="1797" y="1975.7" font-size="27" textLength="380" lengthAdjust="spacingAndGlyphs">PSYCHOLOGY, EDUCATIONAL</text></g>
<g id="l3-public"><rect class="lb" x="1815" y="1994" width="1007" height="47" rx="6"/><text class="lt" x="2318.5" y="2030" font-size="35" textLength="999" lengthAdjust="spacingAndGlyphs">PUBLIC, ENVIRONMENTAL &amp;amp; OCCUPATIONAL HEALTH</text></g>
<g id="l3-rehab"><rect class="lb" x="1444" y="2012" width="181" height="29" rx="5"/><text class="lt" x="1534.5" y="2033.5" font-size="20" textLength="173" lengthAdjust="spacingAndGlyphs">REHABILITATION</text></g>
<g id="l3-health-policy"><rect class="lb" x="1650" y="2053" width="434" height="34" rx="6"/><text class="lt" x="1867" y="2079" font-size="25" textLength="426" lengthAdjust="spacingAndGlyphs">HEALTH POLICY &amp;amp; SERVICES</text></g>
<g id="l3-clin-neuro"><rect class="lb" x="1245" y="2084" width="236" height="30" rx="5"/><text class="lt" x="1363" y="2106.5" font-size="21" textLength="228" lengthAdjust="spacingAndGlyphs">CLINICAL NEUROLOGY</text></g>
<g id="l3-pediatrics"><rect class="lb" x="1576" y="2109" width="189" height="44" rx="6"/><text class="lt" x="1670.5" y="2143" font-size="33" textLength="181" lengthAdjust="spacingAndGlyphs">PEDIATRICS</text></g>
<g id="l3-med-general"><rect class="lb" x="794" y="2112" width="497" height="37" rx="6"/><text class="lt" x="1042.5" y="2140" font-size="27" textLength="489" lengthAdjust="spacingAndGlyphs">MEDICINE, GENERAL &amp;amp; INTERNAL</text></g>
<g id="l3-psych-social"><rect class="lb" x="1358" y="2150" width="195" height="27" rx="5"/><text class="lt" x="1455.5" y="2170.5" font-size="19" textLength="187" lengthAdjust="spacingAndGlyphs">PSYCHOLOGY, SOCIAL</text></g>
<g id="l3-env-sci"><rect class="lb" x="935" y="2240" width="315" height="31" rx="5"/><text class="lt" x="1092.5" y="2263.5" font-size="22" textLength="307" lengthAdjust="spacingAndGlyphs">ENVIRONMENTAL SCIENCES</text></g>
</g>

<g id="captions">
<text class="cap" x="806" y="1084">1991–2000</text>
<text class="cap" x="2877" y="1084">2001–2010</text>
<text class="cap" x="1966" y="2388">2011–2024</text>
</g>
</svg>
